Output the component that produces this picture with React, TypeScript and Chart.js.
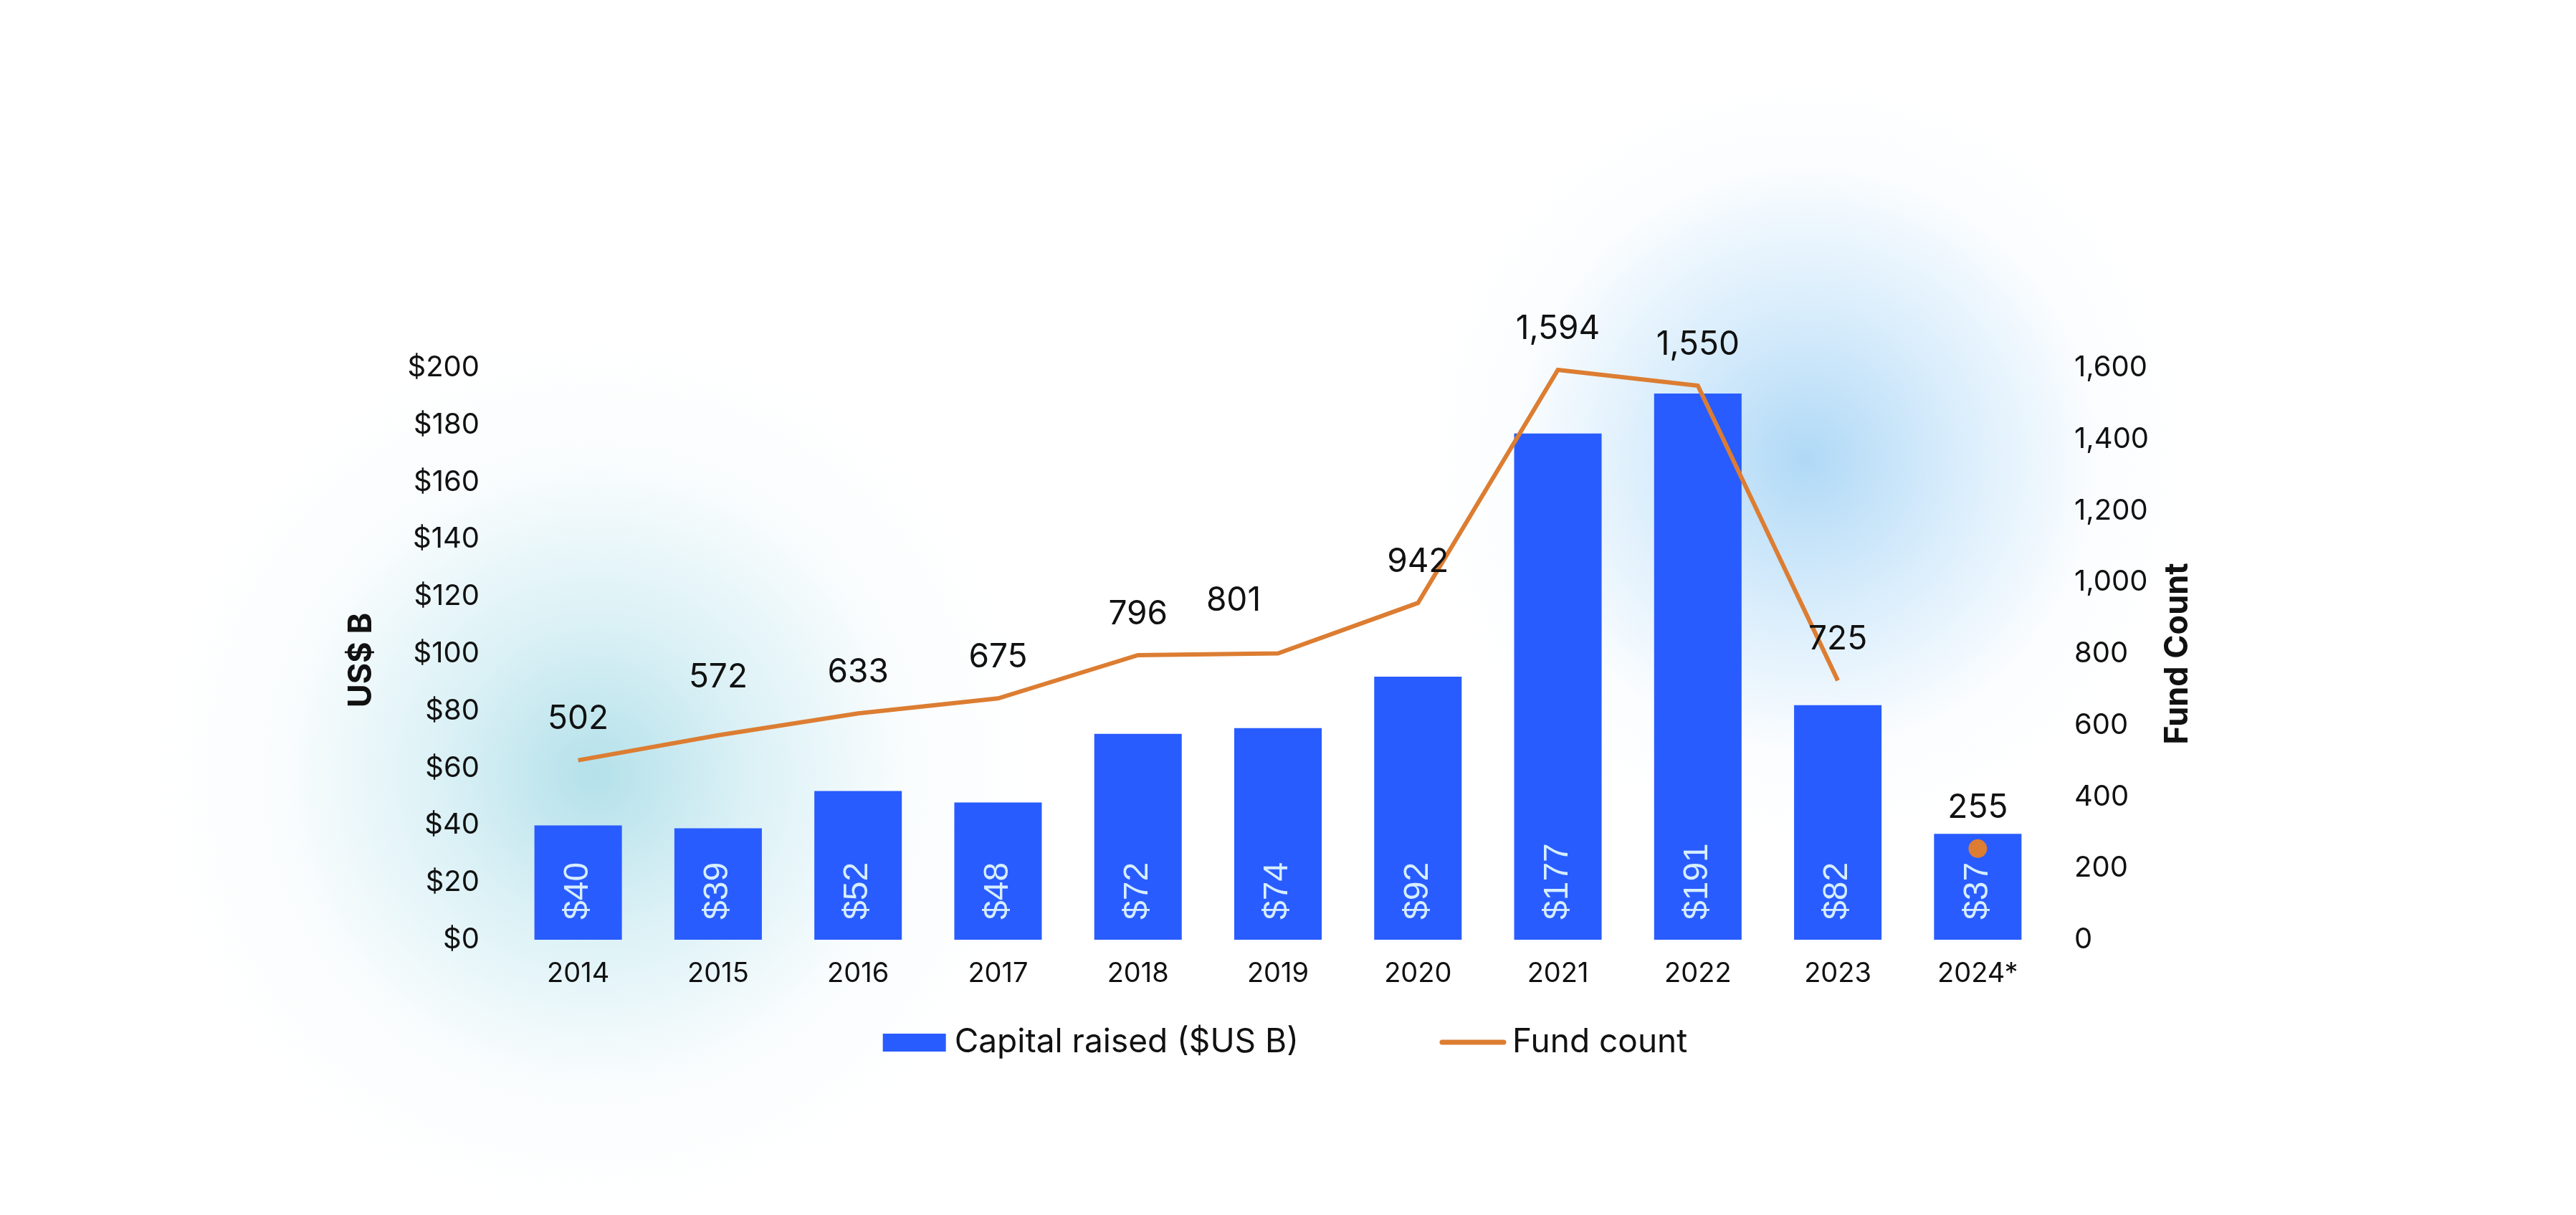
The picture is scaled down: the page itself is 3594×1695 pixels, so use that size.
import { useEffect, useRef } from 'react';
import { Chart, registerables } from 'chart.js';

Chart.register(...registerables);

const years = ['2014', '2015', '2016', '2017', '2018', '2019', '2020', '2021', '2022', '2023', '2024*'];
const capitalRaised = [40, 39, 52, 48, 72, 74, 92, 177, 191, 82, 37];
const fundCount = [502, 572, 633, 675, 796, 801, 942, 1594, 1550, 725, 255];

const BLUE = '#295cff';
const ORANGE = '#dc7d32';
const INK = '#111111';

// a few fund-count labels sit off their usual spot in the original
const labelNudges: Record<number, [number, number]> = { 1: [0, -24], 5: [-62, -16] };

const fmt = (n: number) => n.toLocaleString('en-US');

const valueLabels = {
  id: 'valueLabels',
  afterDatasetsDraw(chart: any) {
    const { ctx } = chart;
    ctx.save();

    // capital raised, rotated inside the bars
    ctx.font = '48px "Liberation Sans", Arial, sans-serif';
    ctx.fillStyle = '#d6eeff';
    ctx.textAlign = 'left';
    ctx.textBaseline = 'middle';
    chart.getDatasetMeta(0).data.forEach((bar: any, i: number) => {
      const { x, base } = bar.getProps(['x', 'base'], true);
      ctx.save();
      ctx.translate(x, base - 28);
      ctx.rotate(-Math.PI / 2);
      ctx.fillText('$' + capitalRaised[i], 0, 0);
      ctx.restore();
    });

    // fund count above the line points
    ctx.font = '46px Inter, sans-serif';
    ctx.fillStyle = INK;
    ctx.textAlign = 'center';
    chart.getDatasetMeta(1).data.forEach((pt: any, i: number) => {
      const [dx, dy] = labelNudges[i] || [0, 0];
      ctx.fillText(fmt(fundCount[i]), pt.x + dx, pt.y - 57 + dy);
    });
    ctx.restore();
  },
  afterDraw(chart: any) {
    const { ctx, chartArea, width } = chart;
    const midY = (chartArea.top + chartArea.bottom) / 2;
    ctx.save();

    // axis titles, both reading bottom to top
    ctx.font = 'bold 45px Inter, sans-serif';
    ctx.fillStyle = INK;
    ctx.textAlign = 'center';
    ctx.textBaseline = 'middle';
    [
      ['US$ B', chartArea.left - 205, midY + 9],
      ['Fund Count', chartArea.right + 181, midY],
    ].forEach(([t, x, y]) => {
      ctx.save();
      ctx.translate(x as number, y as number);
      ctx.rotate(-Math.PI / 2);
      ctx.fillText(t as string, 0, 0);
      ctx.restore();
    });

    // legend
    ctx.font = '46px Inter, sans-serif';
    ctx.textAlign = 'left';
    const t1 = 'Capital raised ($US B)';
    const t2 = 'Fund count';
    const w1 = ctx.measureText(t1).width;
    const w2 = ctx.measureText(t2).width;
    const total = 88 + 12 + w1 + 197 + 92 + 9 + w2;
    const ly = chartArea.bottom + 143;
    let x = width / 2 - total / 2 - 4;
    ctx.fillStyle = BLUE;
    ctx.fillRect(x, ly - 12, 88, 25);
    x += 100;
    ctx.fillStyle = INK;
    ctx.fillText(t1, x, ly);
    x += w1 + 197;
    ctx.strokeStyle = ORANGE;
    ctx.lineWidth = 7;
    ctx.lineCap = 'round';
    ctx.beginPath();
    ctx.moveTo(x + 3, ly);
    ctx.lineTo(x + 89, ly);
    ctx.stroke();
    x += 101;
    ctx.fillText(t2, x, ly);
    ctx.restore();
  },
};

export default function App() {
  const canvasRef = useRef<HTMLCanvasElement>(null);

  useEffect(() => {
    document.body.style.margin = '0';
    if (!canvasRef.current) return;

    Chart.defaults.font.family = 'Inter, sans-serif';
    Chart.defaults.color = INK;

    const chart = new Chart(canvasRef.current, {
      type: 'bar',
      data: {
        labels: years,
        datasets: [
          {
            type: 'bar',
            label: 'Capital raised ($US B)',
            data: capitalRaised,
            backgroundColor: BLUE,
            yAxisID: 'y',
            barPercentage: 0.625,
            categoryPercentage: 1,
            order: 1,
          },
          {
            type: 'line',
            label: 'Fund count',
            data: fundCount,
            borderColor: ORANGE,
            backgroundColor: ORANGE,
            borderWidth: 6,
            tension: 0,
            pointRadius: fundCount.map((_, i) => (i === fundCount.length - 1 ? 13 : 0)),
            pointBorderWidth: 0,
            // 2024* is a partial year: shown as a lone dot
            segment: {
              borderColor: (c: any) => (c.p1DataIndex === fundCount.length - 1 ? 'rgba(0,0,0,0)' : ORANGE),
            },
            yAxisID: 'y1',
            order: 0,
          } as any,
        ],
      },
      options: {
        responsive: false,
        devicePixelRatio: 1,
        animation: false,
        layout: { padding: { top: 513, bottom: 0, left: 0, right: 0 } },
        plugins: {
          legend: { display: false },
          tooltip: { enabled: false },
        },
        scales: {
          x: {
            grid: { display: false, drawTicks: false },
            border: { display: false },
            ticks: { font: { size: 38 }, color: INK, padding: 25 },
            afterFit: (s: any) => { s.height = 384; },
          },
          y: {
            position: 'left',
            min: 0,
            max: 200,
            grid: { display: false, drawTicks: false },
            border: { display: false },
            ticks: { stepSize: 20, font: { size: 40 }, color: INK, padding: 40, callback: (v: any) => '$' + v },
            afterFit: (s: any) => { s.width = 709; },
          },
          y1: {
            position: 'right',
            min: 0,
            max: 1600,
            grid: { display: false, drawTicks: false },
            border: { display: false },
            ticks: { stepSize: 200, font: { size: 40 }, color: INK, padding: 37, callback: (v: any) => fmt(Number(v)) },
            afterFit: (s: any) => { s.width = 737; },
          },
        },
      },
      plugins: [valueLabels],
    });

    return () => {
      chart.destroy();
    };
  }, []);

  return (
    <div
      style={{
        position: 'relative',
        width: 3594,
        height: 1695,
        background: [
          'radial-gradient(circle 620px at 830px 1080px, rgba(176,223,233,0.95) 0%, rgba(196,232,240,0.6) 35%, rgba(232,245,249,0.25) 70%, rgba(255,255,255,0) 100%)',
          'radial-gradient(circle 540px at 2520px 640px, rgba(176,217,246,1) 0%, rgba(198,228,250,0.65) 40%, rgba(234,245,253,0.22) 75%, rgba(255,255,255,0) 100%)',
          '#ffffff',
        ].join(', '),
      }}
    >
      <canvas ref={canvasRef} width={3594} height={1695} style={{ display: 'block' }} />
    </div>
  );
}
